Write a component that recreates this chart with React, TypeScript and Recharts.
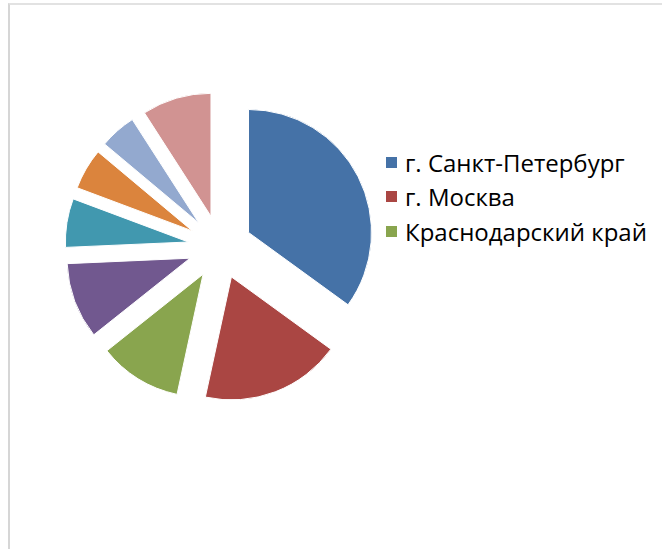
import React from 'react';
import { PieChart, Pie, Cell, Sector } from 'recharts';

// регионы и доли (%), по часовой стрелке от 12 часов
const regions = [
  'г. Санкт-Петербург',
  'г. Москва',
  'Краснодарский край',
  'Московская область',
  'Свердловская область',
  'Республика Татарстан',
  'Новосибирская область',
  'Прочие',
];
const shares = [35.0, 18.4, 10.9, 10.0, 6.4, 5.4, 4.8, 9.1];
const colors = ['#4572A7', '#AA4643', '#89A54E', '#71588F', '#4198AF', '#DB843D', '#93A9CF', '#D19392'];
// в легенде видны только первые три
const legendCount = 3;

const data = regions.map((name, i) => ({ name, value: shares[i] }));

const RAD = Math.PI / 180;
const EXPLODE = 32;

// смещённый сектор (разрезанная диаграмма)
const ExplodedSector = (props: any) => {
  const { cx, cy, midAngle, ...rest } = props;
  const dx = EXPLODE * Math.cos(-midAngle * RAD);
  const dy = EXPLODE * Math.sin(-midAngle * RAD);
  return <Sector {...rest} cx={cx + dx} cy={cy + dy} />;
};

const App: React.FC = () => {
  return (
    <div style={{ position: 'absolute', left: 0, top: 0, width: 662, height: 549, background: '#fff', overflow: 'hidden' }}>
      <div
        style={{
          position: 'absolute',
          left: 8,
          top: 3,
          width: 700,
          height: 600,
          borderLeft: '2px solid #d6d6d6',
          borderTop: '2px solid #e2e2e2',
        }}
      />
      <PieChart width={662} height={549} margin={{ top: 0, right: 0, bottom: 0, left: 0 }} style={{ position: 'absolute', left: 0, top: 0 }}>
        <Pie
          data={data}
          dataKey="value"
          nameKey="name"
          cx={220}
          cy={247}
          outerRadius={123}
          startAngle={90}
          endAngle={-270}
          stroke="#fff"
          strokeWidth={1}
          shape={ExplodedSector}
          isAnimationActive={false}
        >
          {data.map((d, i) => (
            <Cell key={d.name} fill={colors[i]} />
          ))}
        </Pie>
      </PieChart>
      <div
        style={{
          position: 'absolute',
          left: 386,
          top: 145,
          fontFamily: '"Open Sans", sans-serif',
          fontSize: 24,
          color: '#000',
        }}
      >
        {regions.slice(0, legendCount).map((name, i) => (
          <div key={name} style={{ display: 'flex', alignItems: 'center', height: 34.5 }}>
            <span style={{ display: 'inline-block', width: 11, height: 11, background: colors[i], marginRight: 8 }} />
            <span>{name}</span>
          </div>
        ))}
      </div>
    </div>
  );
};

export default App;
